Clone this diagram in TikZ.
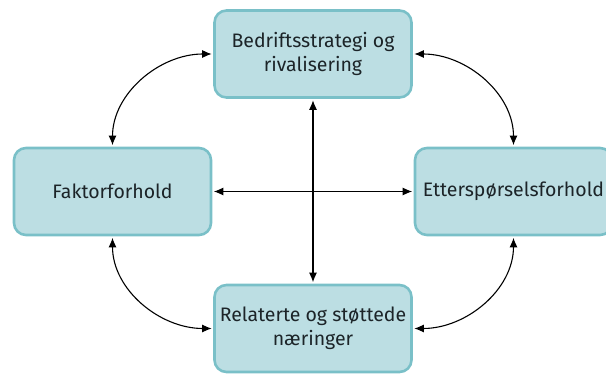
\documentclass[tikz,border=0pt]{standalone}
\usepackage{fontspec}
\setmainfont{Fira Sans}
\usetikzlibrary{arrows.meta}
\definecolor{boxfill}{RGB}{188,222,227}
\definecolor{boxline}{RGB}{122,192,200}
\definecolor{ink}{RGB}{28,36,40}
\begin{document}
\begin{tikzpicture}[x=1pt,y=-1pt,
  factor/.style={draw=boxline, fill=boxfill, line width=2.6pt, rounded corners=12pt,
    minimum width=197pt, minimum height=87pt, inner sep=1pt, align=center, text=ink,
    font=\fontsize{19.5}{24}\selectfont},
  link/.style={{Latex[length=9.5pt,width=8pt]}-{Latex[length=9.5pt,width=8pt]},
    line width=1.1pt, shorten <=1.5pt, shorten >=1.5pt}]
\useasboundingbox (0,0) rectangle (606,374);
% the four factors of the diamond
\node[factor] (top)    at (313,54)  {Bedriftsstrategi og\\rivalisering};
\node[factor] (left)   at (112.5,191.5) {Faktorforhold};
\node[factor] (right)  at (513.5,191.5) {Etterspørselsforhold};
\node[factor] (bottom) at (313,328.5) {Relaterte og støttede\\næringer};
% straight links through the middle
\draw[link] (top.south) -- (bottom.north);
\draw[link] (left.east) -- (right.west);
% curved links around the edge
\draw[link] (left.north) to[out=90,in=180] (top.west);
\draw[link] (top.east) to[out=0,in=90] (right.north);
\draw[link] (left.south) to[out=-90,in=180] (bottom.west);
\draw[link] (bottom.east) to[out=0,in=-90] (right.south);
\end{tikzpicture}
\end{document}
